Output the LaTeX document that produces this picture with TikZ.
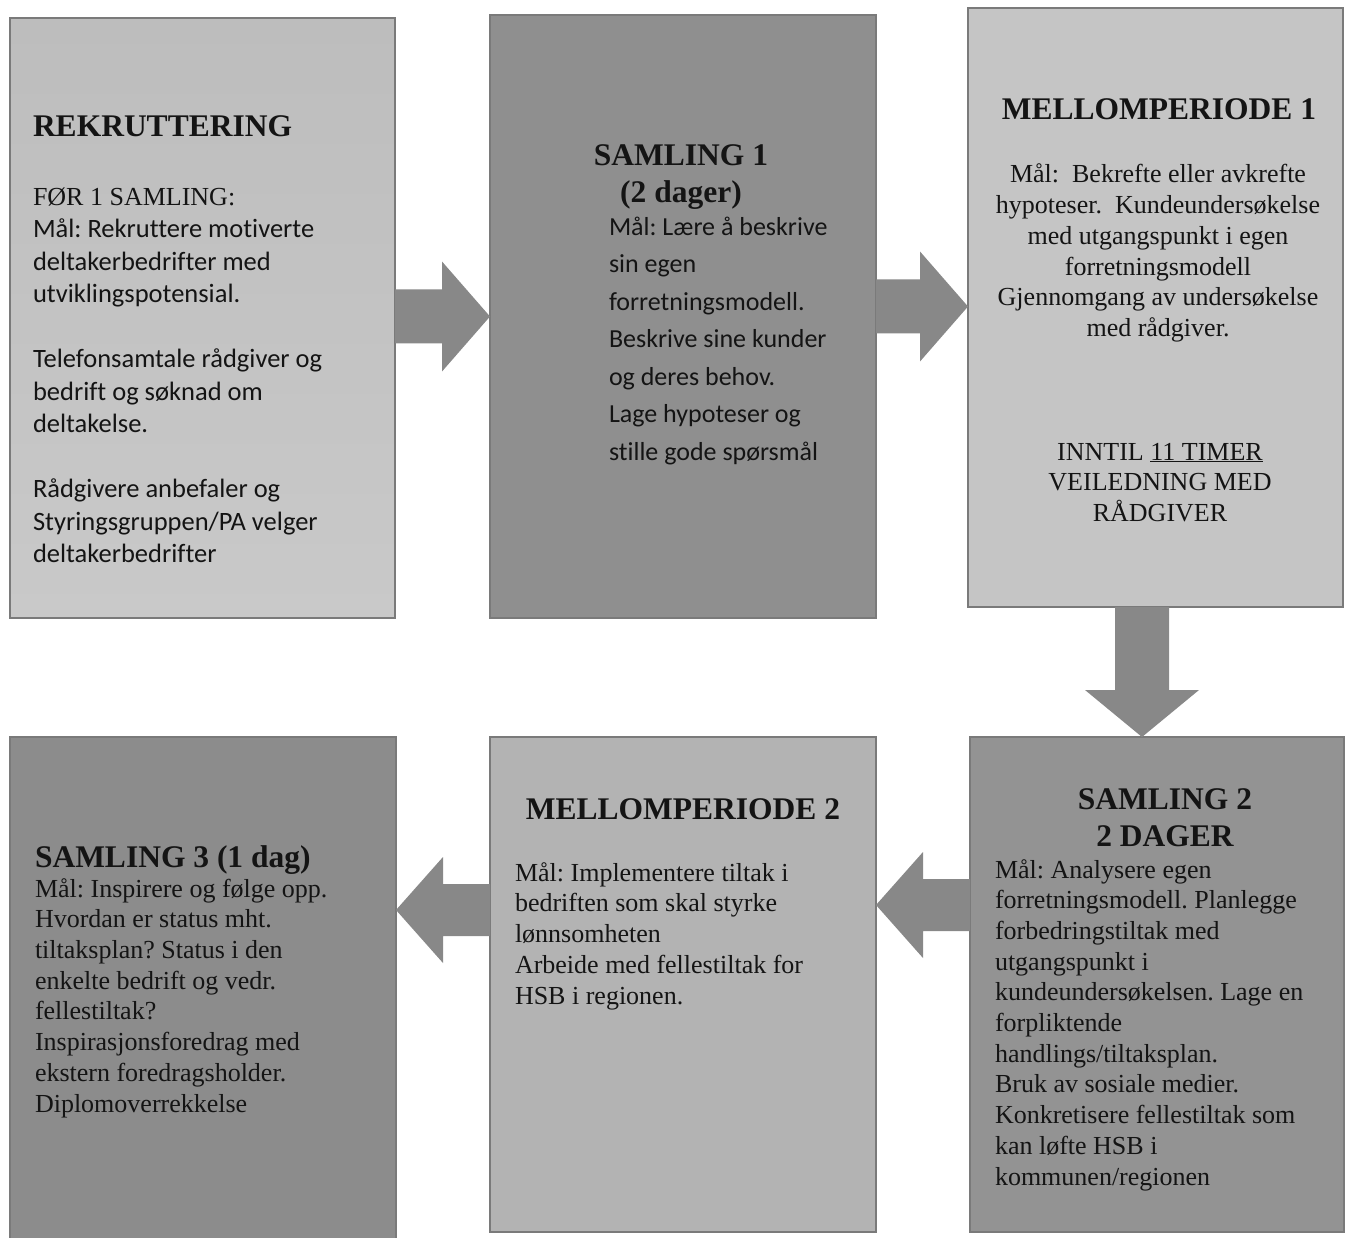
\documentclass[tikz,border=0pt]{standalone}
\usepackage{fontspec}
\setmainfont{Liberation Serif}
\newfontfamily\calfont[Ligatures=NoCommon]{Carlito}
\usetikzlibrary{calc}
\frenchspacing
\definecolor{boxline}{HTML}{7A7A7A}
\definecolor{arrowfill}{HTML}{888888}
\definecolor{textcol}{HTML}{141414}
\definecolor{fillA}{HTML}{BDBDBD}
\definecolor{fillAb}{HTML}{C9C9C9}
\definecolor{fillB}{HTML}{8F8F8F}
\definecolor{fillC}{HTML}{C5C5C5}
\definecolor{fillD}{HTML}{8C8C8C}
\definecolor{fillE}{HTML}{B3B3B3}
\definecolor{fillF}{HTML}{939393}
\newcommand\titlef{\fontsize{31.5}{37}\selectfont\bfseries}
\newcommand\bodyf{\fontsize{26}{30.7}\selectfont}
\newcommand\rarrow[2]{%
  \fill[arrowfill] let \p1=#1, \p2=#2 in
   (\x1,\y2+27pt) -- (\x2-48pt,\y2+27pt) -- (\x2-48pt,\y2+55pt) -- (\x2,\y2)
   -- (\x2-48pt,\y2-55pt) -- (\x2-48pt,\y2-27pt) -- (\x1,\y2-27pt) -- cycle;}
\newcommand\larrow[2]{%
  \fill[arrowfill] let \p1=#1, \p2=#2 in
   (\x1,\y2+26pt) -- (\x2+47pt,\y2+26pt) -- (\x2+47pt,\y2+53pt) -- (\x2,\y2)
   -- (\x2+47pt,\y2-53pt) -- (\x2+47pt,\y2-26pt) -- (\x1,\y2-26pt) -- cycle;}
\newcommand\darrow[2]{%
  \fill[arrowfill] let \p1=#1, \p2=#2 in
   (\x2-27pt,\y1) -- (\x2-27pt,\y2+47pt) -- (\x2-57pt,\y2+47pt) -- (\x2,\y2)
   -- (\x2+57pt,\y2+47pt) -- (\x2+27pt,\y2+47pt) -- (\x2+27pt,\y1) -- cycle;}
\begin{document}
\begin{tikzpicture}[x=1pt,y=-1pt,
  box/.style={draw=boxline, line width=2.5pt, inner sep=0pt, outer sep=0pt, anchor=north west},
  txt/.style={inner sep=0pt, outer sep=0pt, text=textcol}]
\useasboundingbox (0,0) rectangle (1346,1238);
\fill[white] (0,0) rectangle (1346,1238);
\clip (0,0) rectangle (1346,1238);

% boxes
\node[box, top color=fillA, bottom color=fillAb, minimum width=385pt, minimum height=600pt] (b1) at (10,18) {};
\node[box, fill=fillB, minimum width=386pt, minimum height=603pt] (b2) at (490,15) {};
\node[box, fill=fillC, minimum width=375pt, minimum height=599pt] (b3) at (968,8) {};
\node[box, fill=fillD, minimum width=386pt, minimum height=530pt] (b4) at (10,737) {};
\node[box, fill=fillE, minimum width=386pt, minimum height=495pt] (b5) at (490,737) {};
\node[box, fill=fillF, minimum width=374pt, minimum height=495pt] (b6) at (970,737) {};

% arrows
\rarrow{(b1.east)}{(b2.west)}
\rarrow{(b2.east)}{([yshift=1pt]b3.west)}
\darrow{([xshift=-12pt]b3.south)}{([xshift=-15pt]b6.north)}
\larrow{([yshift=-168pt]b6.north west)}{([yshift=-168pt]b5.north east)}
\larrow{([yshift=-173pt]b5.north west)}{([yshift=-173pt]b4.north east)}

% box 1 (multi-line nodes are placed by the baseline of their last line)
\node[txt, anchor=base west, font=\titlef] (t1) at (33,137) {REKRUTTERING};
\node[txt, anchor=base west, align=left, font=\calfont\fontsize{26.5}{32.5}\selectfont] (x1) at (33,562.5)
 {{\rmfamily\fontsize{26}{32.5}\selectfont FØR 1 SAMLING:}\\ Mål: Rekruttere motiverte\\ deltakerbedrifter med\\ utviklingspotensial.\\[32.5pt]
  Telefonsamtale rådgiver og\\ bedrift og søknad om\\ deltakelse.\\[32.5pt]
  Rådgivere anbefaler og\\ Styringsgruppen/PA velger\\ deltakerbedrifter};

% box 2
\node[txt, anchor=base, align=center, font=\titlef] (t2) at (681,203) {SAMLING 1\\ (2 dager)};
\node[txt, anchor=base west, align=left, font=\calfont\fontsize{26}{37.5}\selectfont] (x2) at (609,460)
 {Mål: Lære å beskrive\\ sin egen\\ forretningsmodell.\\ Beskrive sine kunder\\ og deres behov.\\ Lage hypoteser og\\ stille gode spørsmål};

% box 3
\node[txt, anchor=base, font=\titlef] (t3) at (1159,120) {MELLOMPERIODE 1};
\node[txt, anchor=base, align=center, font=\bodyf] (x3) at (1158,336.5)
 {Mål:\ \ Bekrefte eller avkrefte\\ hypoteser.\ \ Kundeundersøkelse\\ med utgangspunkt i egen\\ forretningsmodell\\ Gjennomgang av undersøkelse\\ med rådgiver.};
\node[txt, anchor=base, align=center, font=\bodyf] (y3) at (1160,521.5)
 {INNTIL \underline{11 TIMER}\\ VEILEDNING MED\\ RÅDGIVER};

% box 4
\node[txt, anchor=base west, font=\titlef] (t4) at (35,867) {SAMLING 3 (1 dag)};
\node[txt, anchor=base west, align=left, font=\bodyf] (x4) at (35,1112)
 {Mål: Inspirere og følge opp.\\ Hvordan er status mht.\\ tiltaksplan? Status i den\\ enkelte bedrift og vedr.\\ fellestiltak?\\ Inspirasjonsforedrag med\\ ekstern foredragsholder.\\ Diplomoverrekkelse};

% box 5
\node[txt, anchor=base, font=\titlef] (t5) at (683,819) {MELLOMPERIODE 2};
\node[txt, anchor=base west, align=left, font=\bodyf] (x5) at (515,1004)
 {Mål: Implementere tiltak i\\ bedriften som skal styrke\\ lønnsomheten\\ Arbeide med fellestiltak for\\ HSB i regionen.};

% box 6
\node[txt, anchor=base, align=center, font=\titlef] (t6) at (1165,846) {SAMLING 2\\ 2 DAGER};
\node[txt, anchor=base west, align=left, font=\bodyf] (x6) at (995,1185)
 {Mål: Analysere egen\\ forretningsmodell. Planlegge\\ forbedringstiltak med\\ utgangspunkt i\\ kundeundersøkelsen. Lage en\\ forpliktende\\ handlings/tiltaksplan.\\ Bruk av sosiale medier.\\ Konkretisere fellestiltak som\\ kan løfte HSB i\\ kommunen/regionen};
\end{tikzpicture}
\end{document}
